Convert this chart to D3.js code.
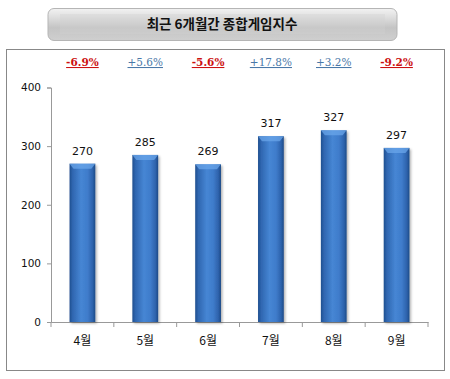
<!DOCTYPE html>
<html><head><meta charset="utf-8">
<script src="https://cdn.jsdelivr.net/npm/d3@7"></script>
<style>body{margin:0;background:#fff}svg{display:block}</style>
</head><body><svg id="c" width="450" height="379"></svg>
<script>
const months = ["4월","5월","6월","7월","8월","9월"];
const values = [270,285,269,317,327,297];
const changes = ["-6.9%","+5.6%","-5.6%","+17.8%","+3.2%","-9.2%"];
const yTicks = [0,100,200,300,400];
const title = "최근 6개월간 종합게임지수";

const svg = d3.select("#c");
const defs = svg.append("defs");
const g1 = defs.append("linearGradient").attr("id","bar").attr("x1","0").attr("x2","1").attr("y1","0").attr("y2","0");
[[0,"#1f4f8f"],[0.12,"#2f66b0"],[0.45,"#4686d4"],[0.7,"#3f7ccb"],[0.9,"#2d62ab"],[1,"#1c4a86"]].forEach(s=>g1.append("stop").attr("offset",s[0]).attr("stop-color",s[1]));
const g2 = defs.append("linearGradient").attr("id","title").attr("x1","0").attr("x2","0").attr("y1","0").attr("y2","1");
[[0,"#f2f2f2"],[0.25,"#e0e0e0"],[0.6,"#c4c4c4"],[1,"#cfcfcf"]].forEach(s=>g2.append("stop").attr("offset",s[0]).attr("stop-color",s[1]));
const f = defs.append("filter").attr("id","sh").attr("x","-20%").attr("y","-20%").attr("width","150%").attr("height","150%");
f.append("feDropShadow").attr("dx",1.5).attr("dy",1.5).attr("stdDeviation",1.2).attr("flood-color","#000").attr("flood-opacity",0.3);

// title button
svg.append("rect").attr("x",48).attr("y",8.5).attr("width",349).attr("height",32).attr("rx",6)
  .attr("fill","url(#title)").attr("stroke","#b5b5b5").attr("stroke-width",1);
svg.append("rect").attr("x",60).attr("y",14).attr("width",325).attr("height",20)
  .attr("fill","#d0d0d0").attr("opacity",0.35);
svg.append("text").attr("x",222).attr("y",29).attr("text-anchor","middle")
  .attr("font-family","'Noto Sans CJK KR'").attr("font-weight","bold").attr("font-size",13.5)
  .attr("fill","#111").text(title);

// outer frame
svg.append("rect").attr("x",6.5).attr("y",49.5).attr("width",438).attr("height",321)
  .attr("fill","none").attr("stroke","#888").attr("stroke-width",1);

const x = d3.scaleBand().domain(months).range([51,428]).paddingInner(0.59).paddingOuter(0.295);
const xc = d3.scaleBand().domain(months).range([51,428]);
const y = d3.scaleLinear().domain([0,400]).range([322,87.5]);

// y axis
const ya = svg.append("g").attr("transform","translate(51,0)")
  .call(d3.axisLeft(y).tickValues(yTicks).tickSize(4).tickPadding(6));
ya.select(".domain").attr("stroke","#999");
ya.selectAll(".tick line").attr("stroke","#999");
ya.selectAll("text").attr("font-family","'DejaVu Sans'").attr("font-size",10.5).attr("fill","#111");

// x axis
const xa = svg.append("g").attr("transform","translate(0,322)")
  .call(d3.axisBottom(xc).tickSize(0).tickPadding(14).tickSizeOuter(0));
xa.select(".domain").attr("stroke","#999");
xa.selectAll("text").attr("font-family","'Noto Sans CJK KR'").attr("font-size",12).attr("fill","#111");
const bounds = months.map(m=>xc(m)).concat([xc(months[5])+xc.bandwidth()]);
svg.append("g").selectAll("line").data(bounds).join("line")
  .attr("x1",d=>d).attr("x2",d=>d).attr("y1",322).attr("y2",327).attr("stroke","#999");

// bars
const bars = svg.append("g").selectAll("g").data(values).join("g");
bars.append("rect").attr("x",(d,i)=>x(months[i])).attr("y",d=>y(d)).attr("width",x.bandwidth())
  .attr("height",d=>322-y(d)).attr("fill","url(#bar)").attr("filter","url(#sh)");
bars.append("path").attr("d",(d,i)=>{const x0=x(months[i]),w=x.bandwidth(),t=y(d);
  return `M${x0},${t}L${x0+w},${t}L${x0+w-4},${t+5}L${x0+4},${t+5}Z`;})
  .attr("fill","#6aa6ea").attr("opacity",0.75);
bars.append("text").attr("x",(d,i)=>xc(months[i])+xc.bandwidth()/2).attr("y",d=>y(d)-9)
  .attr("text-anchor","middle").attr("font-family","'DejaVu Sans'").attr("font-size",11).attr("fill","#111")
  .text(d=>d);

// change labels
svg.append("g").selectAll("text").data(changes).join("text")
  .attr("x",(d,i)=>xc(months[i])+xc.bandwidth()/2).attr("y",66)
  .attr("text-anchor","middle").attr("font-family","'DejaVu Serif'").attr("font-size",10.5)
  .attr("font-weight",d=>d[0]==="-"?"bold":"normal")
  .attr("text-decoration","underline")
  .attr("fill",d=>d[0]==="-"?"#cc1111":"#4a78a8").text(d=>d);
</script></body></html>
